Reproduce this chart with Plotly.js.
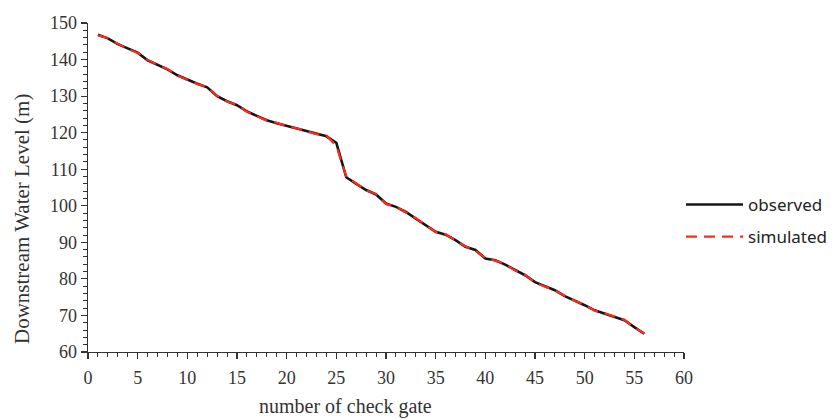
<!DOCTYPE html>
<html>
<head>
<meta charset="utf-8">
<script src="https://cdn.plot.ly/plotly-3.0.1.min.js"></script>
<style>html,body{margin:0;padding:0;background:#fff;}#chart{width:836px;height:419px;}</style>
</head>
<body>
<div id="chart"></div>
<script>
const gates = [1,2,3,4,5,6,7,8,9,10,11,12,13,14,15,16,17,18,19,20,21,22,23,24,25,26,27,28,29,30,31,32,33,34,35,36,37,38,39,40,41,42,43,44,45,46,47,48,49,50,51,52,53,54,55,56];
const observed = [146.8,145.8,144.2,143.0,141.9,139.8,138.6,137.3,135.7,134.5,133.4,132.4,130.0,128.6,127.5,125.8,124.6,123.4,122.6,121.9,121.2,120.4,119.7,119.0,117.2,107.8,106.0,104.3,103.1,100.6,99.7,98.3,96.5,94.8,92.9,92.1,90.6,88.8,87.9,85.6,85.1,83.9,82.4,81.0,79.1,77.9,76.9,75.3,74.1,72.8,71.4,70.5,69.8,68.7,66.8,65.0];
const simulated = [146.6,145.9,144.3,142.9,141.8,139.9,138.5,137.4,135.6,134.5,133.3,132.5,130.1,128.5,127.6,125.7,124.6,123.3,122.7,121.8,121.2,120.5,119.6,119.2,116.4,108.0,106.1,104.2,103.2,100.5,99.8,98.2,96.6,94.7,92.8,92.2,90.5,88.9,87.7,85.7,85.0,84.0,82.3,81.1,79.0,78.0,76.8,75.4,74.0,72.9,71.3,70.6,69.7,68.8,66.7,65.1];
const seriesNames = ['observed','simulated'];
const xTitle = 'number of check gate';
const yTitle = 'Downstream Water Level (m)';

const serif = 'Liberation Serif, Times New Roman, serif';
const traces = [
  {x: gates, y: observed, name: seriesNames[0], mode: 'lines', legendgroup: 'a',
   line: {color: '#161616', width: 2.6}},
  {x: gates, y: simulated, name: seriesNames[1], mode: 'lines', legendgroup: 'b',
   line: {color: '#ff2a1a', width: 2.2, dash: '11px,7px'}}
];
const axisCommon = {
  showgrid: false, zeroline: false, showline: true, linecolor: '#333', linewidth: 1.3,
  ticks: 'outside', ticklen: 6, tickwidth: 1.2, tickcolor: '#333',
  tickfont: {family: serif, size: 18, color: '#333'}
};
const layout = {
  width: 836, height: 419,
  margin: {l: 88, r: 152, t: 23, b: 67, autoexpand: false},
  paper_bgcolor: '#fff', plot_bgcolor: '#fff',
  showlegend: true,
  legend: {x: (681-88)/596, xanchor: 'left', y: (352-221)/329, yanchor: 'middle', traceorder: 'grouped', tracegroupgap: 7,
           font: {family: 'Noto Sans, DejaVu Sans, sans-serif', size: 17, color: '#222'}, itemwidth: 57, bgcolor: 'rgba(0,0,0,0)'},
  xaxis: Object.assign({}, axisCommon, {range: [0, 60], dtick: 5, tick0: 0, ticklabelstandoff: 3,
    minor: {dtick: 1, ticks: 'outside', ticklen: 4, tickcolor: '#333', tickwidth: 1}}),
  yaxis: Object.assign({}, axisCommon, {range: [60, 150], dtick: 10, tick0: 60,
    minor: {dtick: 2, ticks: 'outside', ticklen: 4, tickcolor: '#333', tickwidth: 1}}),
  annotations: [
    {text: xTitle, xref: 'paper', yref: 'paper', x: (345-88)/596, y: 0, yshift: -54, showarrow: false,
     xanchor: 'center', yanchor: 'middle', font: {family: serif, size: 20, color: '#333'}},
    {text: yTitle, xref: 'paper', yref: 'paper', x: 0, xshift: -66, y: (352-219)/329, textangle: -90, showarrow: false,
     xanchor: 'center', yanchor: 'middle', font: {family: serif, size: 21, color: '#333'}}
  ]
};
Plotly.newPlot('chart', traces, layout, {displayModeBar: false, staticPlot: true});
</script>
</body>
</html>
